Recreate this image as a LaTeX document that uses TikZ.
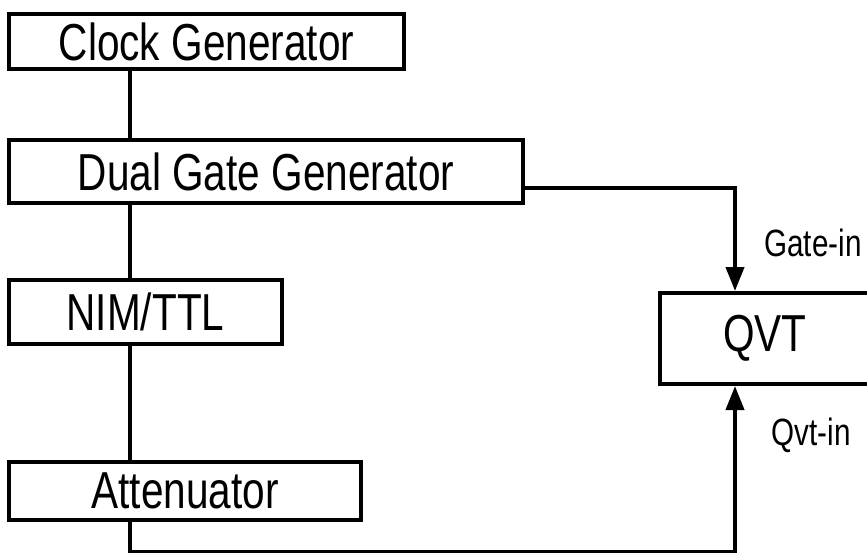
\documentclass[tikz,border=0pt]{standalone}
\usepackage{fontspec}
\setmainfont[FakeStretch=0.78]{Liberation Sans}
\usetikzlibrary{arrows.meta}
\begin{document}
\begin{tikzpicture}[x=1pt,y=-1pt,
  box/.style={draw, line width=4pt, inner sep=0pt, font=\fontsize{52}{58}\selectfont},
  wire/.style={line width=4pt},
  tip/.style={-{Triangle[length=24pt,width=18pt]}},
  lbl/.style={font=\fontsize{38}{42}\selectfont, inner sep=0pt}]
\useasboundingbox (0,0) rectangle (867,552);
% vertical spine on the left and the drop line into the QVT
\coordinate (spine) at (130,0);
\coordinate (tap) at (735,0);
\coordinate (gy) at (0,188);

\node[box, minimum width=395pt, minimum height=55pt] (clock) at (206.5,41.5) {Clock Generator};
\node[box, minimum width=514pt, minimum height=63pt] (dual) at (266,171.5) {Dual Gate Generator};
\node[box, minimum width=273pt, minimum height=64pt] (nim) at (145.5,312) {NIM/TTL};
\node[box, minimum width=352pt, minimum height=58pt] (att) at (185,491) {Attenuator};
\node[box, minimum width=210pt, minimum height=91pt] (qvt) at (765,338.5) {QVT};

\node[lbl] (gatein) at (813,243) {Gate-in};
\node[lbl] (qvtin) at (811,435) {Qvt-in};

\draw[wire] (clock.south -| spine) -- (dual.north -| spine);
\draw[wire] (dual.south -| spine) -- (nim.north -| spine);
\draw[wire] (nim.south -| spine) -- (att.north -| spine);
\draw[wire, tip] (dual.east |- gy) -- (gy -| tap) -- (qvt.north -| tap);
\draw[wire, tip] (att.south -| spine) -- ++(0,30) -| (qvt.south -| tap);
\end{tikzpicture}
\end{document}
